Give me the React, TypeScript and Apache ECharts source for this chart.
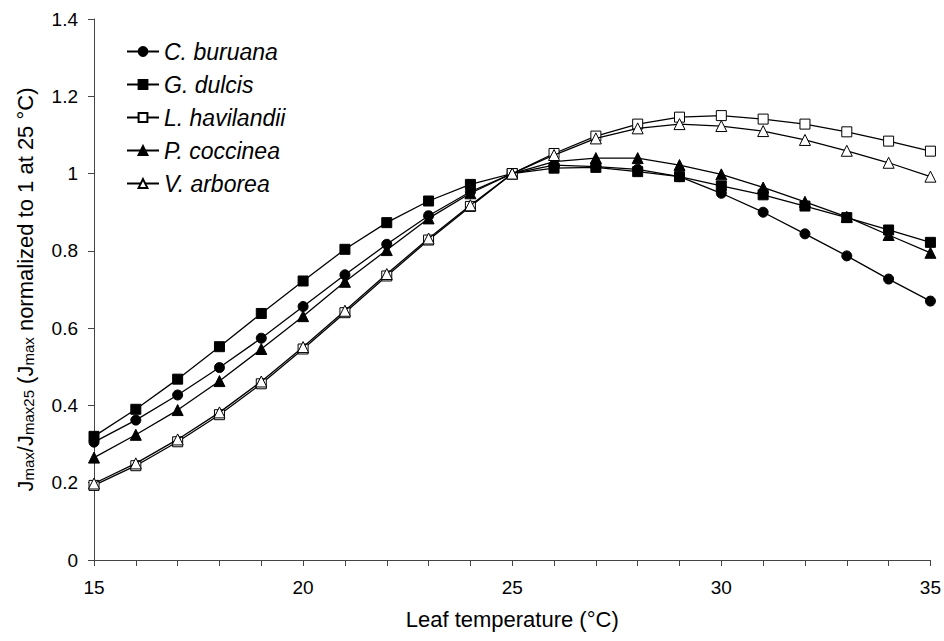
import React, { useEffect, useRef } from "react";
import * as echarts from "echarts";

const temps = [15, 16, 17, 18, 19, 20, 21, 22, 23, 24, 25, 26, 27, 28, 29, 30, 31, 32, 33, 34, 35];

const cBuruana = [0.305, 0.362, 0.427, 0.498, 0.574, 0.656, 0.738, 0.817, 0.891, 0.953, 1.0, 1.022, 1.018, 1.011, 0.992, 0.949, 0.9, 0.844, 0.787, 0.727, 0.67];
const gDulcis = [0.32, 0.39, 0.468, 0.552, 0.638, 0.722, 0.804, 0.873, 0.929, 0.972, 1.0, 1.014, 1.016, 1.005, 0.992, 0.968, 0.945, 0.916, 0.886, 0.854, 0.822];
const lHavilandii = [0.193, 0.244, 0.306, 0.376, 0.456, 0.546, 0.64, 0.735, 0.828, 0.915, 1.0, 1.052, 1.097, 1.128, 1.146, 1.15, 1.141, 1.128, 1.108, 1.084, 1.058];
const pCoccinea = [0.265, 0.324, 0.388, 0.463, 0.546, 0.631, 0.72, 0.802, 0.884, 0.949, 1.0, 1.031, 1.04, 1.04, 1.022, 0.998, 0.964, 0.927, 0.888, 0.841, 0.795];
const vArborea = [0.198, 0.25, 0.312, 0.382, 0.462, 0.551, 0.645, 0.74, 0.832, 0.918, 1.0, 1.048, 1.091, 1.117, 1.128, 1.123, 1.11, 1.087, 1.059, 1.028, 0.992];

const seriesNames = ["C. buruana", "G. dulcis", "L. havilandii", "P. coccinea", "V. arborea"];
const seriesValues = [cBuruana, gDulcis, lHavilandii, pCoccinea, vArborea];
const seriesSymbols = ["circle", "rect", "rect", "triangle", "triangle"];
const seriesFilled = [true, true, false, true, false];

const FONT = "'Liberation Sans', Arial, sans-serif";

export default function App() {
  const ref = useRef<HTMLDivElement>(null);

  useEffect(() => {
    if (!ref.current) return;
    const chart = echarts.init(ref.current, null, { renderer: "svg" });

    const series = seriesNames.map((name, i) => ({
      name,
      type: "line",
      data: temps.map((t, j) => [t, seriesValues[i][j]]),
      symbol: seriesSymbols[i],
      symbolSize: seriesSymbols[i] === "triangle" ? 11 : 10,
      showSymbol: true,
      lineStyle: { color: "#000", width: 1.3 },
      itemStyle: {
        color: seriesFilled[i] ? "#000" : "#fff",
        borderColor: "#000",
        borderWidth: 1,
      },
      emphasis: { disabled: true },
      z: 2 + i,
    }));

    chart.setOption({
      animation: false,
      backgroundColor: "#fff",
      textStyle: { fontFamily: FONT },
      grid: { left: 94, top: 19, right: 12, bottom: 81, containLabel: false },
      legend: {
        data: seriesNames,
        orient: "vertical",
        left: 121,
        top: 35,
        itemWidth: 32,
        itemHeight: 11,
        itemGap: 10,
        textStyle: { fontFamily: FONT, fontSize: 23, fontStyle: "italic", color: "#000" },
      },
      xAxis: {
        type: "value",
        min: 15,
        max: 35,
        interval: 5,
        name: "Leaf temperature (°C)",
        nameLocation: "middle",
        nameGap: 48,
        nameTextStyle: { fontFamily: FONT, fontSize: 22, color: "#000" },
        axisLine: { show: true, onZero: false, lineStyle: { color: "#444", width: 1 } },
        axisTick: { show: true, inside: false, length: 6, lineStyle: { color: "#444" } },
        minorTick: { show: true, splitNumber: 5, length: 6, lineStyle: { color: "#444" } },
        axisLabel: { fontFamily: FONT, fontSize: 19, color: "#000", margin: 18 },
        splitLine: { show: false },
        minorSplitLine: { show: false },
      },
      yAxis: {
        type: "value",
        min: 0,
        max: 1.4,
        interval: 0.2,
        name: "{n|J}{s|max}{n|/J}{s|max25}{n| (J}{s|max}{n| normalized to 1 at 25 °C)}",
        nameLocation: "middle",
        nameRotate: 90,
        nameGap: 58,
        nameTextStyle: {
          fontFamily: FONT,
          color: "#000",
          rich: {
            n: { fontFamily: FONT, fontSize: 22, lineHeight: 22, verticalAlign: "top", color: "#000" },
            s: { fontFamily: FONT, fontSize: 15, lineHeight: 15, padding: [10, 0, 0, 0], verticalAlign: "bottom", color: "#000" },
          },
        },
        axisLine: { show: true, onZero: false, lineStyle: { color: "#444", width: 1 } },
        axisTick: { show: true, inside: false, length: 6, lineStyle: { color: "#444" } },
        axisLabel: { fontFamily: FONT, fontSize: 19, color: "#000", margin: 16 },
        splitLine: { show: false },
      },
      series,
    });

    return () => chart.dispose();
  }, []);

  return (
    <div
      ref={ref}
      style={{ position: "fixed", left: 0, top: 0, width: 944, height: 641, background: "#fff" }}
    />
  );
}
